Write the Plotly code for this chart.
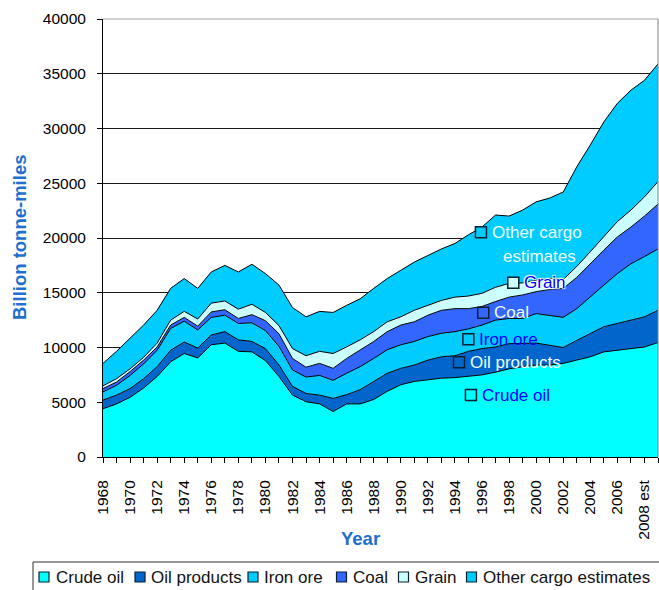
import plotly.graph_objects as go

# ---------------- data ----------------
years = [str(y) for y in range(1968, 2008)] + ["2008 est", "2009 est"]

crude_oil = [4400, 4850, 5450, 6300, 7350, 8700, 9450, 9050, 10250, 10400,
             9650, 9600, 8800, 7350, 5650, 5050, 4850, 4150, 4850, 4850,
             5250, 6000, 6600, 6900, 7050, 7200, 7250, 7350, 7500, 7750,
             8050, 8250, 8400, 8400, 8550, 8850, 9150, 9600, 9750, 9900,
             10050, 10450]
oil_products = [800, 800, 800, 850, 900, 1050, 1050, 900, 900, 1050,
                1050, 950, 1100, 1050, 800, 750, 800, 1200, 850, 1300,
                1650, 1650, 1500, 1500, 1800, 1950, 2000, 2300, 2400, 2300,
                2300, 2150, 2000, 1800, 1450, 1800, 2100, 2300, 2450, 2600,
                2750, 2950]
iron_ore = [750, 900, 1200, 1350, 1500, 2000, 1900, 1650, 1600, 1500,
            1500, 1700, 1650, 1700, 1500, 1500, 1800, 1650, 1950, 2100,
            2100, 2150, 2150, 2150, 2150, 2150, 2200, 2050, 2150, 2450,
            2300, 2250, 2700, 2750, 2750, 2900, 3400, 3800, 4550, 5150,
            5500, 5600]
coal = [300, 300, 350, 350, 300, 300, 350, 350, 500, 500,
        450, 750, 900, 1150, 1050, 900, 1100, 1100, 1350, 1550,
        1550, 1650, 1800, 1800, 1950, 2100, 2100, 1850, 1700, 1700,
        1950, 2150, 2000, 2350, 2650, 2850, 3050, 3200, 3350, 3350,
        3700, 4100]
grain = [250, 300, 250, 250, 350, 450, 550, 650, 800, 800,
         850, 950, 750, 750, 900, 1050, 1100, 1350, 1050, 900,
         900, 900, 750, 1050, 900, 900, 1050, 1150, 1200, 1300,
         1250, 1100, 1050, 1000, 800, 1000, 1050, 1200, 1400, 1550,
         1750, 2050]
other_cargo = [2050, 2500, 2800, 2950, 3000, 2900, 3000, 2800, 2850, 3250,
               3400, 3650, 3550, 3700, 3750, 3550, 3650, 3750, 3800, 3750,
               3950, 3950, 4250, 4400, 4550, 4700, 4900, 5600, 6050, 6600,
               6150, 6650, 7150, 7350, 8000, 9100, 9750, 10500, 10800, 10950,
               10650, 10750]

series_names = ["Crude oil", "Oil products", "Iron ore", "Coal", "Grain",
                "Other cargo estimates"]
series_values = [crude_oil, oil_products, iron_ore, coal, grain, other_cargo]
series_colors = ["#00FFFF", "#0066CC", "#00CCFF", "#3366FF", "#CCFFFF", "#00CCFF"]

# in-chart labels (data coordinates: category index, value)
label_text = ["Other cargo", "Grain", "Coal", "Iron ore", "Oil products", "Crude oil"]
label_series = [5, 4, 3, 2, 1, 0]
label_x = [27.92, 30.31, 28.09, 26.99, 26.30, 27.18]
label_y = [20520, 15917, 13178, 10749, 8648, 5662]
label_font_colors = ["#F0FFFF", "#0000FF", "#F0FFFF", "#0000FF", "#F0FFFF", "#0000FF"]

FONT = "Liberation Sans, Arial, sans-serif"
TITLE_BLUE = "#1E6FD0"

W, H = 659, 590
ML, MR, MT, MB = 103, 1, 19, 133
PW = W - ML - MR
PH = H - MT - MB


def px_x(p):
    return (p - ML) / PW


def px_y(p):
    return (H - MB - p) / PH


x = list(range(len(years)))

fig = go.Figure()
for name, vals, color in zip(series_names, series_values, series_colors):
    fig.add_trace(go.Scatter(
        x=x, y=vals, name=name, stackgroup="one", mode="lines",
        line=dict(color="#000000", width=1), fillcolor=color,
        hoverinfo="skip", showlegend=False))

# label markers
fig.add_trace(go.Scatter(
    x=label_x, y=label_y, mode="markers", showlegend=False, hoverinfo="skip",
    cliponaxis=False,
    marker=dict(symbol="square", size=11,
                color=[series_colors[s] for s in label_series],
                line=dict(color="#0A2030", width=1.5))))

annotations = []
halo = "1px 1px 1px #fff, -1px -1px 1px #fff, 1px -1px 1px #fff, -1px 1px 1px #fff"
for t, lx, ly, fc in zip(label_text, label_x, label_y, label_font_colors):
    f = dict(family=FONT, size=17, color=fc)
    if t == "Grain":
        f["shadow"] = halo
    annotations.append(dict(x=lx, y=ly, xref="x", yref="y", text=t,
                            showarrow=False, xanchor="left", yanchor="middle",
                            xshift=9, font=f))
annotations.append(dict(x=label_x[0], y=label_y[0], xref="x", yref="y",
                        text="estimates", showarrow=False, xanchor="center",
                        yanchor="middle", xshift=59, yshift=-24,
                        font=dict(family=FONT, size=17, color="#F0FFFF")))

# axis titles
annotations.append(dict(x=px_x(19), y=0.5, xref="paper", yref="paper",
                        text="<b>Billion tonne-miles</b>", textangle=-90,
                        showarrow=False, xanchor="center", yanchor="middle",
                        font=dict(family=FONT, size=18.5, color=TITLE_BLUE)))
annotations.append(dict(x=px_x(360), y=px_y(538), xref="paper", yref="paper",
                        text="<b>Year</b>", showarrow=False,
                        xanchor="center", yanchor="middle",
                        font=dict(family=FONT, size=18.5, color=TITLE_BLUE)))

shapes = []
# plot area border (top & right) in gray
shapes.append(dict(type="line", xref="paper", yref="paper", x0=0, x1=1, y0=1, y1=1,
                   line=dict(color="#A0A0A0", width=1)))
shapes.append(dict(type="line", xref="paper", yref="paper", x0=1, x1=1, y0=0, y1=1,
                   line=dict(color="#808080", width=1)))

# manual legend
shapes.append(dict(type="rect", xref="paper", yref="paper",
                   x0=px_x(33), x1=px_x(675), y0=px_y(562), y1=px_y(610),
                   line=dict(color="#303030", width=1), fillcolor="rgba(0,0,0,0)"))
legend_key_px = [44, 140, 253, 341.5, 403.5, 471.5]
legend_text_px = [54, 149, 262, 351, 413, 481]
legend_y_px = 577
for name, color, kx, tx in zip(series_names, series_colors, legend_key_px, legend_text_px):
    shapes.append(dict(type="rect", xref="paper", yref="paper",
                       x0=px_x(kx - 5), x1=px_x(kx + 5),
                       y0=px_y(legend_y_px - 5), y1=px_y(legend_y_px + 5),
                       line=dict(color="#0A2030", width=1.2), fillcolor=color))
    annotations.append(dict(x=px_x(tx), y=px_y(legend_y_px), xref="paper", yref="paper",
                            text=name, showarrow=False, xanchor="left",
                            yanchor="middle",
                            font=dict(family=FONT, size=17, color="#111111")))

fig.update_layout(
    width=W, height=H,
    margin=dict(l=ML, r=MR, t=MT, b=MB),
    paper_bgcolor="white", plot_bgcolor="white",
    showlegend=False,
    font=dict(family=FONT, color="#000000"),
    annotations=annotations, shapes=shapes,
    xaxis=dict(range=[0, len(years) - 1], tickmode="array", tickvals=x,
               ticktext=[years[i] if i % 2 == 0 else "" for i in x],
               tickangle=-90, ticks="outside", ticklen=5, tickcolor="#000",
               showline=True, linecolor="#000", linewidth=1, mirror=False,
               showgrid=False, zeroline=False, ticklabelstandoff=11,
               automargin=False,
               tickfont=dict(family=FONT, size=15.5, color="#000")),
    yaxis=dict(range=[0, 40000], tickmode="linear", tick0=0, dtick=5000,
               tickformat="d", ticks="outside", ticklen=5, tickcolor="#000",
               showline=True, linecolor="#000", linewidth=1,
               showgrid=True, gridcolor="#1a1a1a", gridwidth=1,
               zeroline=False, ticklabelstandoff=8, automargin=False,
               tickfont=dict(family=FONT, size=15.5, color="#000")),
)

fig.write_html("out.html",
               config={"displayModeBar": False},
               post_script="document.body.style.margin='0';document.body.style.padding='0';")
